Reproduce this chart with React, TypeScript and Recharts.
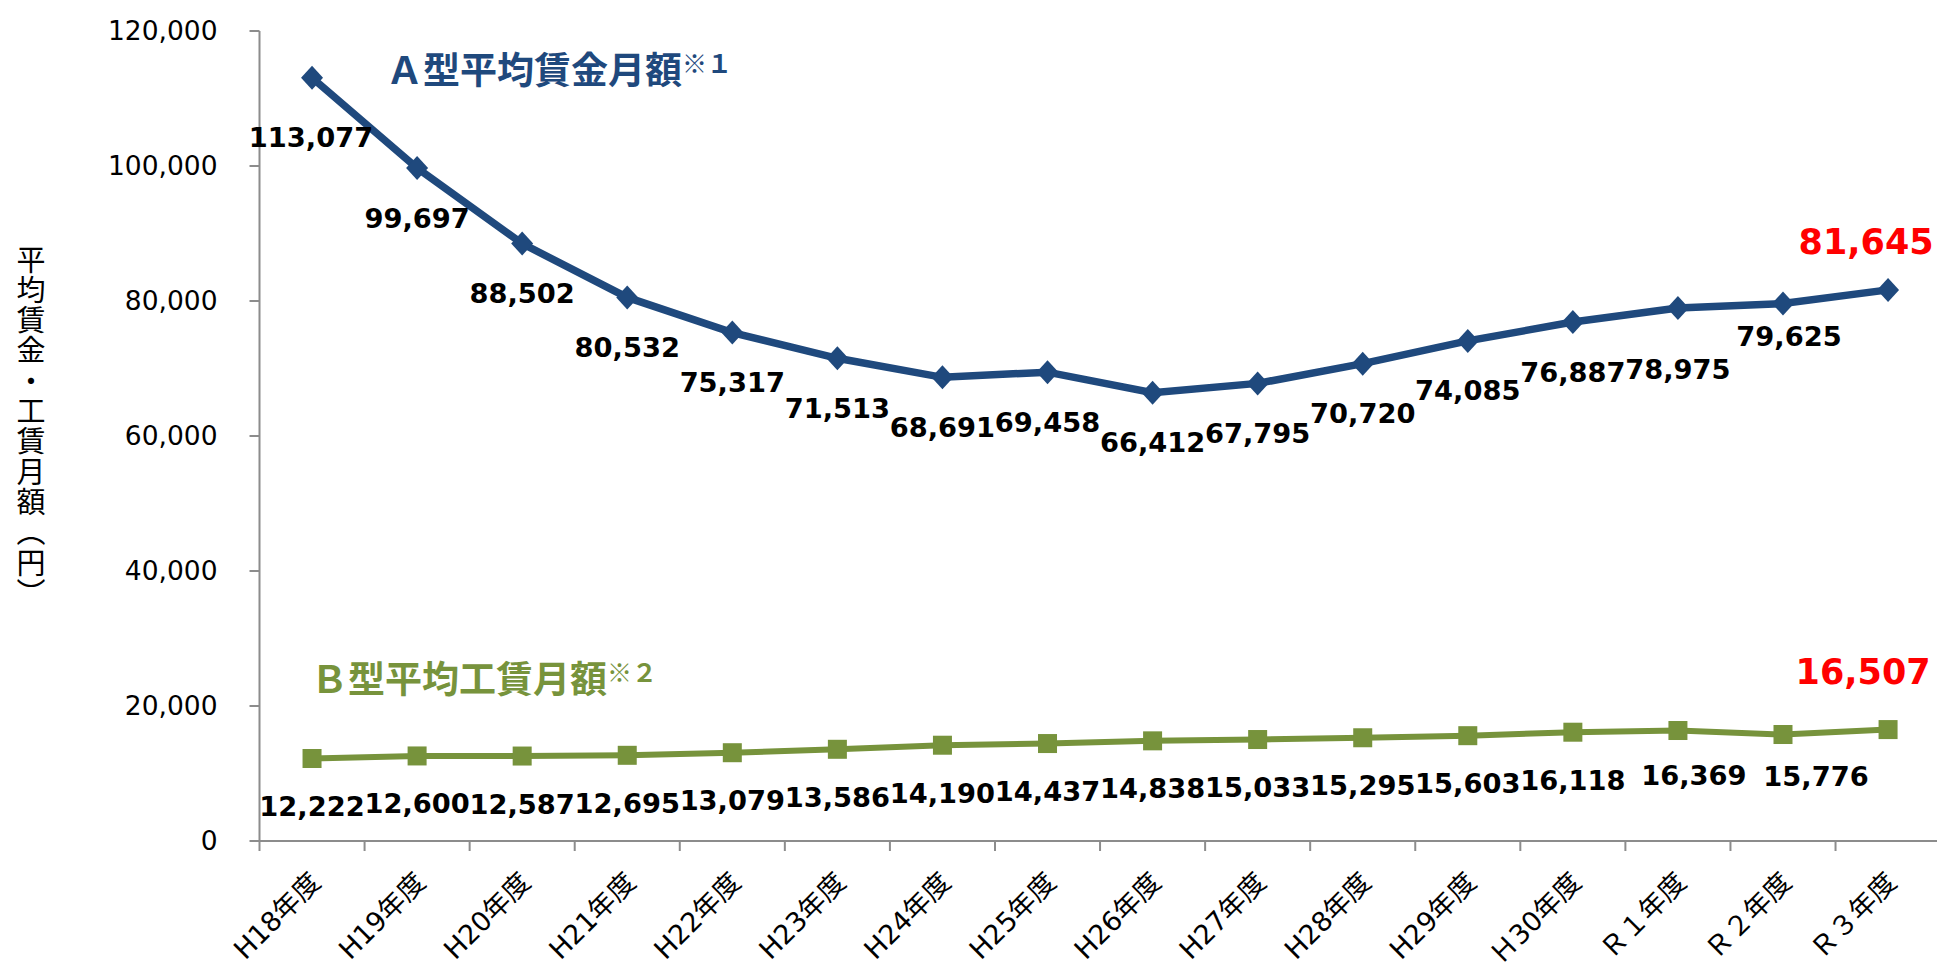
import React from 'react';
import { LineChart, Line, XAxis, YAxis } from 'recharts';

// ---- data ----
const categories = [
  'H18年度', 'H19年度', 'H20年度', 'H21年度', 'H22年度', 'H23年度', 'H24年度', 'H25年度',
  'H26年度', 'H27年度', 'H28年度', 'H29年度', 'Ｈ30年度', 'Ｒ１年度', 'Ｒ２年度', 'Ｒ３年度',
];
const typeA = [113077, 99697, 88502, 80532, 75317, 71513, 68691, 69458, 66412, 67795, 70720, 74085, 76887, 78975, 79625, 81645];
const typeB = [12222, 12600, 12587, 12695, 13079, 13586, 14190, 14437, 14838, 15033, 15295, 15603, 16118, 16369, 15776, 16507];
const yTicks = [0, 20000, 40000, 60000, 80000, 100000, 120000];
const titleA = 'Ａ型平均賃金月額';
const titleASup = '※１';
const titleB = 'Ｂ型平均工賃月額';
const titleBSup = '※２';
const yTitle = '平均賃金・工賃月額（円）';

const rows = categories.map((c, i) => ({ idx: i, name: c, a: typeA[i], b: typeB[i] }));

// ---- layout / style ----
const CHART_W = 1945;
const CHART_H = 968;
const PLOT_LEFT = 259.5;
const PLOT_TOP = 31;
const PLOT_BOTTOM = 841;
const PLOT_RIGHT = 1940.6;
const HALF = (PLOT_RIGHT - PLOT_LEFT) / categories.length / 2;
const BLUE = '#1F497D';
const GREEN = '#77933C';
const AXIS = '#8C8C8C';
const RED = '#FF0000';

const nudgeA: Record<number, { dx: number; dy: number }> = {
  0: { dx: -1, dy: 60 },
  13: { dx: 0, dy: 62 },
  14: { dx: 6, dy: 33 },
  15: { dx: -22, dy: -48 },
};
const nudgeB: Record<number, { dx: number; dy: number }> = {
  13: { dx: 16, dy: 45 },
  14: { dx: 33, dy: 42 },
  15: { dx: -25, dy: -58 },
};

const fmt = (v: number) => v.toLocaleString('en-US');

const makeLabel = (nudge: Record<number, { dx: number; dy: number }>, defDy: number, lastIndex: number) => (p: any) => {
  const { x, y, value, index } = p;
  if (x == null || y == null) return null;
  const n = nudge[index] || { dx: 0, dy: defDy };
  const last = index === lastIndex;
  return (
    <text
      key={`l${index}`}
      x={x + n.dx}
      y={y + n.dy}
      textAnchor="middle"
      dominantBaseline="central"
      fontFamily="'DejaVu Sans', sans-serif"
      fontWeight="bold"
      fontSize={last ? 35 : 27.3}
      fill={last ? RED : '#000'}
    >
      {fmt(Number(value))}
    </text>
  );
};

const diamondDot = (p: any) => {
  const { cx, cy, index } = p;
  if (cx == null || cy == null) return <g key={`d${index}`} />;
  const rx = 11;
  const ry = 12;
  return (
    <path
      key={`d${index}`}
      d={`M${cx},${cy - ry}L${cx + rx},${cy}L${cx},${cy + ry}L${cx - rx},${cy}Z`}
      fill={BLUE}
    />
  );
};

const squareDot = (p: any) => {
  const { cx, cy, index } = p;
  if (cx == null || cy == null) return <g key={`s${index}`} />;
  const h = 9.5;
  return <rect key={`s${index}`} x={cx - h} y={cy - h} width={2 * h} height={2 * h} fill={GREEN} />;
};

const XTick = (props: any) => {
  const { x, payload } = props;
  const i = Number(payload.value);
  const ax = x + 10;
  const ay = PLOT_BOTTOM + 43;
  return (
    <g>
      <line x1={x - HALF} y1={PLOT_BOTTOM} x2={x - HALF} y2={PLOT_BOTTOM + 10} stroke={AXIS} strokeWidth={2} />
      <text
        x={ax}
        y={ay}
        textAnchor="end"
        transform={`rotate(-45 ${ax} ${ay})`}
        fontFamily="'DejaVu Sans', 'Noto Sans CJK JP', sans-serif"
        fontSize={27}
        fill="#000"
      >
        {categories[i]}
      </text>
    </g>
  );
};

export default function App() {
  return (
    <div
      style={{
        position: 'absolute',
        left: 0,
        top: 0,
        width: 1937,
        height: 968,
        overflow: 'hidden',
        background: '#fff',
      }}
    >
      <LineChart
        width={CHART_W}
        height={CHART_H}
        data={rows}
        margin={{ top: PLOT_TOP, right: CHART_W - PLOT_RIGHT, bottom: 0, left: 0 }}
      >
        <XAxis
          dataKey="idx"
          type="number"
          domain={[-0.5, categories.length - 0.5]}
          ticks={categories.map((_, i) => i)}
          interval={0}
          height={CHART_H - PLOT_BOTTOM}
          axisLine={{ stroke: AXIS, strokeWidth: 2 }}
          tickLine={false}
          tick={<XTick />}
        />
        <YAxis
          domain={[0, 120000]}
          ticks={yTicks}
          interval={0}
          width={PLOT_LEFT}
          tickSize={10}
          tickMargin={32}
          axisLine={{ stroke: AXIS, strokeWidth: 2 }}
          tickLine={{ stroke: AXIS, strokeWidth: 2 }}
          tick={{ fontSize: 26.5, fill: '#000', fontFamily: "'DejaVu Sans', sans-serif" }}
          tickFormatter={fmt}
        />
        <Line
          dataKey="b"
          stroke={GREEN}
          strokeWidth={6}
          dot={squareDot}
          activeDot={false}
          isAnimationActive={false}
          label={makeLabel(nudgeB, 48, typeB.length - 1)}
        />
        <Line
          dataKey="a"
          stroke={BLUE}
          strokeWidth={7.5}
          dot={diamondDot}
          activeDot={false}
          isAnimationActive={false}
          label={makeLabel(nudgeA, 50, typeA.length - 1)}
        />
      </LineChart>
      <svg
        width={1937}
        height={968}
        style={{ position: 'absolute', left: 0, top: 0, pointerEvents: 'none' }}
      >
        <text x={386} y={84} fontFamily="'Noto Sans CJK JP', sans-serif" fontWeight="bold" fontSize={37} fill={BLUE}>
          {titleA}
          <tspan fontSize={25} dy={-11}>{titleASup}</tspan>
        </text>
        <text x={311} y={693} fontFamily="'Noto Sans CJK JP', sans-serif" fontWeight="bold" fontSize={37} fill={GREEN}>
          {titleB}
          <tspan fontSize={25} dy={-11}>{titleBSup}</tspan>
        </text>
        <text
          x={31}
          y={245}
          style={{ writingMode: 'vertical-rl' }}
          fontFamily="'Noto Sans CJK JP', sans-serif"
          fontSize={29}
          letterSpacing={1.3}
          fill="#000"
        >
          {yTitle}
        </text>
      </svg>
    </div>
  );
}
